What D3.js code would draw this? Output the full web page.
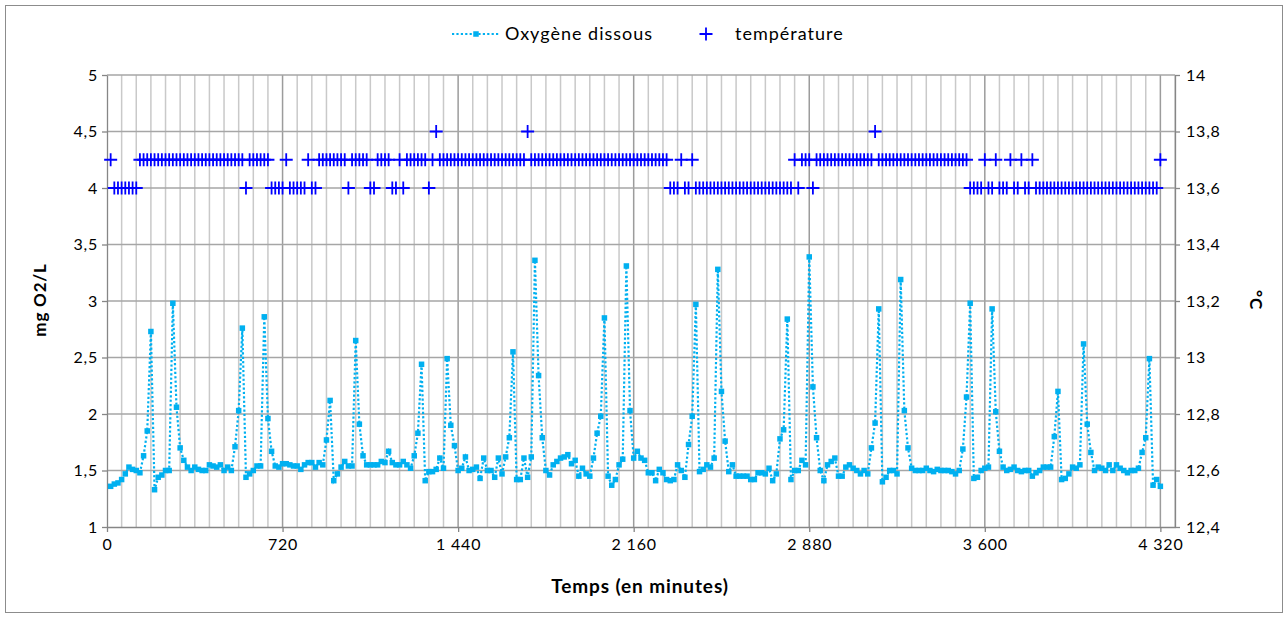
<!DOCTYPE html>
<html>
<head>
<meta charset="utf-8">
<script src="https://cdn.jsdelivr.net/npm/d3@7"></script>
<style>
  body { margin: 0; background: #fff; }
  svg { display: block; }
  text { font-family: Lato, "Liberation Sans", sans-serif; fill: #000; }
</style>
</head>
<body>
<svg id="chart" width="1288" height="618"></svg>
<script>
// ---- DATA ----
const minutes = [
  15,30,45,60,75,90,105,120,135,150,165,180,
  195,210,225,240,255,270,285,300,315,330,345,360,
  375,390,405,420,435,450,465,480,495,510,525,540,
  555,570,585,600,615,630,645,660,675,690,705,720,
  735,750,765,780,795,810,825,840,855,870,885,900,
  915,930,945,960,975,990,1005,1020,1035,1050,1065,1080,
  1095,1110,1125,1140,1155,1170,1185,1200,1215,1230,1245,1260,
  1275,1290,1305,1320,1335,1350,1365,1380,1395,1410,1425,1440,
  1455,1470,1485,1500,1515,1530,1545,1560,1575,1590,1605,1620,
  1635,1650,1665,1680,1695,1710,1725,1740,1755,1770,1785,1800,
  1815,1830,1845,1860,1875,1890,1905,1920,1935,1950,1965,1980,
  1995,2010,2025,2040,2055,2070,2085,2100,2115,2130,2145,2160,
  2175,2190,2205,2220,2235,2250,2265,2280,2295,2310,2325,2340,
  2355,2370,2385,2400,2415,2430,2445,2460,2475,2490,2505,2520,
  2535,2550,2565,2580,2595,2610,2625,2640,2655,2670,2685,2700,
  2715,2730,2745,2760,2775,2790,2805,2820,2835,2850,2865,2880,
  2895,2910,2925,2940,2955,2970,2985,3000,3015,3030,3045,3060,
  3075,3090,3105,3120,3135,3150,3165,3180,3195,3210,3225,3240,
  3255,3270,3285,3300,3315,3330,3345,3360,3375,3390,3405,3420,
  3435,3450,3465,3480,3495,3510,3525,3540,3555,3570,3585,3600,
  3615,3630,3645,3660,3675,3690,3705,3720,3735,3750,3765,3780,
  3795,3810,3825,3840,3855,3870,3885,3900,3915,3930,3945,3960,
  3975,3990,4005,4020,4035,4050,4065,4080,4095,4110,4125,4140,
  4155,4170,4185,4200,4215,4230,4245,4260,4275,4290,4305,4320
];

const oxygen = [
  1.36,1.38,1.39,1.42,1.47,1.53,1.51,1.50,1.48,1.63,1.85,2.73,
  1.33,1.44,1.46,1.50,1.50,2.98,2.06,1.70,1.59,1.53,1.50,1.53,
  1.51,1.50,1.50,1.55,1.54,1.53,1.55,1.50,1.53,1.50,1.71,2.03,
  2.76,1.44,1.47,1.50,1.54,1.54,2.86,1.96,1.67,1.54,1.53,1.56,
  1.56,1.55,1.54,1.54,1.51,1.55,1.57,1.57,1.53,1.57,1.55,1.77,
  2.12,1.41,1.47,1.53,1.58,1.54,1.54,2.65,1.91,1.63,1.55,1.55,
  1.55,1.55,1.58,1.57,1.67,1.57,1.55,1.55,1.58,1.55,1.52,1.63,
  1.83,2.44,1.41,1.49,1.49,1.51,1.61,1.52,2.49,1.90,1.72,1.50,
  1.52,1.62,1.50,1.51,1.53,1.43,1.61,1.50,1.50,1.44,1.61,1.47,
  1.62,1.79,2.55,1.42,1.42,1.61,1.44,1.62,3.36,2.34,1.79,1.50,
  1.46,1.55,1.58,1.61,1.62,1.64,1.56,1.59,1.45,1.52,1.47,1.45,
  1.61,1.83,1.98,2.85,1.45,1.37,1.42,1.55,1.60,3.31,2.03,1.61,
  1.67,1.61,1.59,1.48,1.48,1.41,1.51,1.48,1.42,1.41,1.42,1.55,
  1.50,1.44,1.73,1.98,2.97,1.49,1.51,1.55,1.53,1.61,3.28,2.20,
  1.76,1.49,1.55,1.45,1.45,1.45,1.45,1.42,1.42,1.48,1.48,1.47,
  1.52,1.41,1.47,1.78,1.86,2.84,1.42,1.50,1.50,1.59,1.55,3.39,
  2.24,1.79,1.50,1.41,1.55,1.58,1.61,1.45,1.45,1.53,1.55,1.52,
  1.50,1.47,1.50,1.47,1.70,1.92,2.93,1.40,1.44,1.50,1.50,1.47,
  3.19,2.03,1.70,1.52,1.50,1.50,1.50,1.52,1.50,1.49,1.51,1.50,
  1.50,1.50,1.49,1.47,1.50,1.69,2.15,2.98,1.43,1.44,1.50,1.52,
  1.53,2.93,2.02,1.67,1.53,1.50,1.51,1.53,1.50,1.49,1.50,1.50,
  1.45,1.48,1.50,1.53,1.53,1.53,1.80,2.20,1.42,1.43,1.47,1.53,
  1.52,1.55,2.62,1.91,1.66,1.50,1.53,1.52,1.50,1.55,1.50,1.55,
  1.52,1.50,1.48,1.50,1.50,1.52,1.66,1.79,2.49,1.37,1.42,1.36
];

const temperature = [
  13.7,13.6,13.6,13.6,13.6,13.6,13.6,13.6,13.7,13.7,13.7,13.7,
  13.7,13.7,13.7,13.7,13.7,13.7,13.7,13.7,13.7,13.7,13.7,13.7,
  13.7,13.7,13.7,13.7,13.7,13.7,13.7,13.7,13.7,13.7,13.7,13.7,
  13.7,13.6,13.7,13.7,13.7,13.7,13.7,13.7,13.6,13.6,13.6,13.6,
  13.7,13.6,13.6,13.6,13.6,13.6,13.7,13.6,13.6,13.7,13.7,13.7,
  13.7,13.7,13.7,13.7,13.7,13.6,13.7,13.7,13.7,13.7,13.7,13.6,
  13.6,13.7,13.7,13.7,13.7,13.6,13.6,13.7,13.6,13.7,13.7,13.7,
  13.7,13.7,13.7,13.6,13.7,13.8,13.7,13.7,13.7,13.7,13.7,13.7,
  13.7,13.7,13.7,13.7,13.7,13.7,13.7,13.7,13.7,13.7,13.7,13.7,
  13.7,13.7,13.7,13.7,13.7,13.7,13.8,13.7,13.7,13.7,13.7,13.7,
  13.7,13.7,13.7,13.7,13.7,13.7,13.7,13.7,13.7,13.7,13.7,13.7,
  13.7,13.7,13.7,13.7,13.7,13.7,13.7,13.7,13.7,13.7,13.7,13.7,
  13.7,13.7,13.7,13.7,13.7,13.7,13.7,13.7,13.7,13.6,13.6,13.6,
  13.7,13.6,13.6,13.7,13.6,13.6,13.6,13.6,13.6,13.6,13.6,13.6,
  13.6,13.6,13.6,13.6,13.6,13.6,13.6,13.6,13.6,13.6,13.6,13.6,
  13.6,13.6,13.6,13.6,13.6,13.6,13.6,13.7,13.6,13.7,13.7,13.7,
  13.6,13.7,13.7,13.7,13.7,13.7,13.7,13.7,13.7,13.7,13.7,13.7,
  13.7,13.7,13.7,13.7,13.7,13.8,13.7,13.7,13.7,13.7,13.7,13.7,
  13.7,13.7,13.7,13.7,13.7,13.7,13.7,13.7,13.7,13.7,13.7,13.7,
  13.7,13.7,13.7,13.7,13.7,13.7,13.7,13.6,13.6,13.6,13.6,13.7,
  13.6,13.6,13.7,13.6,13.6,13.6,13.7,13.6,13.6,13.7,13.6,13.6,
  13.7,13.6,13.6,13.6,13.6,13.6,13.6,13.6,13.6,13.6,13.6,13.6,
  13.6,13.6,13.6,13.6,13.6,13.6,13.6,13.6,13.6,13.6,13.6,13.6,
  13.6,13.6,13.6,13.6,13.6,13.6,13.6,13.6,13.6,13.6,13.6,13.7
];

const xTickValues = [0, 720, 1440, 2160, 2880, 3600, 4320];
const xTickLabels = ["0", "720", "1 440", "2 160", "2 880", "3 600", "4 320"];
const leftTickValues = [1, 1.5, 2, 2.5, 3, 3.5, 4, 4.5, 5];
const leftTickLabels = ["1", "1,5", "2", "2,5", "3", "3,5", "4", "4,5", "5"];
const rightTickValues = [12.4, 12.6, 12.8, 13, 13.2, 13.4, 13.6, 13.8, 14];
const rightTickLabels = ["12,4", "12,6", "12,8", "13", "13,2", "13,4", "13,6", "13,8", "14"];
const seriesNames = ["Oxygène dissous", "température"];
const axisTitles = { x: "Temps (en minutes)", left: "mg O2/L", right: "°C" };

// ---- CHART ----
const svg = d3.select("#chart");
const P = { l: 107, t: 75, r: 1175, b: 527 };
const x = d3.scaleLinear().domain([0, 4380]).range([P.l, P.r]);
const yL = d3.scaleLinear().domain([1, 5]).range([P.b, P.t]);
const yR = d3.scaleLinear().domain([12.4, 14]).range([P.b, P.t]);
const oxyColor = "#00B0F0";
const tempColor = "#0000FF";

svg.append("rect").attr("x", 5.5).attr("y", 5.5).attr("width", 1277).attr("height", 607)
  .attr("fill", "#fff").attr("stroke", "#8c8c8c").attr("stroke-width", 1);

// vertical gridlines (every 60 min), majors every 720
svg.append("g").selectAll("line").data(d3.range(60, 4381, 60)).join("line")
  .attr("x1", d => x(d)).attr("x2", d => x(d))
  .attr("y1", P.t).attr("y2", P.b)
  .attr("stroke", d => d % 720 === 0 ? "#9c9c9c" : "#c9c9c9")
  .attr("stroke-width", 1.5);

// horizontal gridlines
svg.append("g").selectAll("line").data(leftTickValues.slice(1)).join("line")
  .attr("x1", P.l).attr("x2", P.r)
  .attr("y1", d => yL(d)).attr("y2", d => yL(d))
  .attr("stroke", "#a6a6a6").attr("stroke-width", 1.3);

// axes
const axisStyle = g => {
  g.selectAll(".domain").attr("stroke", "#868686").attr("stroke-width", 1.3);
  g.selectAll(".tick line").attr("stroke", "#868686").attr("stroke-width", 1.3);
  g.selectAll(".tick text").style("font-size", "16px").style("letter-spacing", "0.8px").attr("fill", "#000");
};

svg.append("g").attr("transform", `translate(0,${P.b})`)
  .call(d3.axisBottom(x).tickValues(xTickValues)
    .tickFormat((d, i) => xTickLabels[i]).tickSize(5).tickSizeOuter(0).tickPadding(7))
  .call(axisStyle);

svg.append("g").attr("transform", `translate(${P.l},0)`)
  .call(d3.axisLeft(yL).tickValues(leftTickValues)
    .tickFormat((d, i) => leftTickLabels[i]).tickSize(5).tickSizeOuter(0).tickPadding(4))
  .call(axisStyle);

svg.append("g").attr("transform", `translate(${P.r},0)`)
  .call(d3.axisRight(yR).tickValues(rightTickValues)
    .tickFormat((d, i) => rightTickLabels[i]).tickSize(5).tickSizeOuter(0).tickPadding(6))
  .call(axisStyle);

// oxygen series
const oxyData = minutes.map((t, i) => ({ t, v: oxygen[i] }));
svg.append("path").datum(oxyData)
  .attr("fill", "none").attr("stroke", oxyColor).attr("stroke-width", 2.2)
  .attr("stroke-dasharray", "2.2,2.2")
  .attr("d", d3.line().x(d => x(d.t)).y(d => yL(d.v)));
const ms = 5.5;
svg.append("g").selectAll("rect").data(oxyData).join("rect")
  .attr("x", d => x(d.t) - ms / 2).attr("y", d => yL(d.v) - ms / 2)
  .attr("width", ms).attr("height", ms).attr("fill", oxyColor);

// temperature series (plus markers)
const tempData = minutes.map((t, i) => ({ t, v: temperature[i] }));
const plus = "M-6.5,0H6.5M0,-6.5V6.5";
svg.append("g").selectAll("path").data(tempData).join("path")
  .attr("transform", d => `translate(${x(d.t)},${yR(d.v)})`)
  .attr("d", plus).attr("stroke", tempColor).attr("stroke-width", 1.8).attr("fill", "none");

// axis titles
svg.append("text").attr("x", 640).attr("y", 593).attr("text-anchor", "middle")
  .style("font-size", "19px").style("letter-spacing", "0.9px").style("font-weight", "bold").text(axisTitles.x);
svg.append("text").attr("transform", "translate(46,300) rotate(-90)").attr("text-anchor", "middle")
  .style("font-size", "17px").style("letter-spacing", "0.8px").style("font-weight", "bold").text(axisTitles.left);
svg.append("text").attr("transform", "translate(1250,300) rotate(90)").attr("text-anchor", "middle")
  .style("font-size", "17px").style("letter-spacing", "0.8px").style("font-weight", "bold").text(axisTitles.right);

// legend
const lg = svg.append("g");
lg.append("line").attr("x1", 452).attr("x2", 500).attr("y1", 34).attr("y2", 34)
  .attr("stroke", oxyColor).attr("stroke-width", 2.2).attr("stroke-dasharray", "2.2,2.2");
lg.append("rect").attr("x", 476 - ms / 2).attr("y", 34 - ms / 2).attr("width", ms).attr("height", ms).attr("fill", oxyColor);
lg.append("text").attr("x", 505).attr("y", 40).style("font-size", "18px").style("letter-spacing", "1px").text(seriesNames[0]);
lg.append("path").attr("transform", "translate(706,34)").attr("d", plus)
  .attr("stroke", tempColor).attr("stroke-width", 1.8);
lg.append("text").attr("x", 735).attr("y", 40).style("font-size", "18px").style("letter-spacing", "1px").text(seriesNames[1]);
</script>
</body>
</html>
